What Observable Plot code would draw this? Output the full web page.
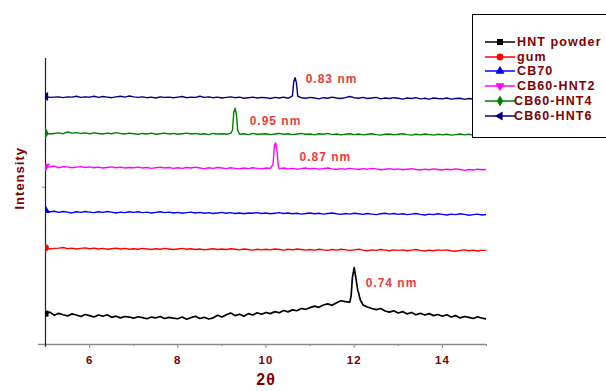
<!DOCTYPE html>
<html><head><meta charset="utf-8">
<script src="https://cdn.jsdelivr.net/npm/d3@7"></script>
<script src="https://cdn.jsdelivr.net/npm/@observablehq/plot@0.6"></script>
<style>
html,body{margin:0;padding:0;background:#fff;}
#wrap{position:relative;width:606px;height:391px;overflow:hidden;font-family:"Liberation Sans",Arial,sans-serif;}
#wrap svg text{letter-spacing:1px;}
#wrap g[aria-label="peak"] text{letter-spacing:1.6px;}
#legend{position:absolute;left:472px;top:14px;width:150px;height:124px;border:1px solid #000;background:#fff;box-sizing:border-box;}
.lrow{position:absolute;height:14px;}
.lrow svg{position:absolute;left:0;top:0;}
.ltext{position:absolute;font:bold 12.5px "Liberation Sans",Arial,sans-serif;letter-spacing:1.1px;color:#800000;line-height:14px;white-space:nowrap;}
</style>
</head><body>
<div id="wrap"></div>
<script>
// ---- data ----
const twoTheta = d3.range(101).map(i => +(5 + i * 0.1).toFixed(1)); // 5.0 .. 15.0 sampling grid
const seriesNames = ["HNT powder", "gum", "CB70", "CB60-HNT2", "CB60-HNT4", "CB60-HNT6"];
const seriesColors = ["#000000", "#ff0000", "#0000ff", "#ff00ff", "#008000", "#000080"];

const hntPowder = [
 10.8,11.3,10.2,10.9,10.4,10.0,10.7,10.3,9.8,10.5,
 10.1,9.6,10.3,9.9,10.4,9.5,9.9,9.3,9.8,9.6,
 9.2,9.7,9.4,9.0,9.6,9.3,9.8,9.1,9.5,9.2,
 9.0,9.6,8.8,9.4,9.9,9.1,9.5,8.9,9.3,10.2,
 9.6,10.4,11.0,10.1,10.6,9.9,10.8,10.3,11.1,10.6,
 11.2,10.8,11.5,11.1,11.9,11.4,12.1,11.8,12.6,12.3,
 12.9,13.4,13.0,13.8,14.2,13.7,14.6,15.3,15.0,14.8,
 26.9,18.0,13.8,13.1,12.6,12.2,12.6,11.7,11.3,11.8,
 11.0,11.5,10.7,11.2,10.4,10.9,10.3,10.8,10.1,10.5,
 9.9,10.4,9.6,10.1,9.3,9.8,9.5,9.1,9.7,9.2,
 8.9];
const hntPowderPeakTheta = [11.93, 11.96, 12.04, 12.08, 12.14, 12.17];
const hntPowderPeakI = [17.0, 23.5, 23.0, 19.0, 15.5, 14.8];

const gum = [
 33.8,33.4,33.6,33.7,33.9,33.5,33.7,33.4,33.6,33.8,
 33.5,33.7,33.4,33.6,33.3,33.5,33.7,33.4,33.6,33.3,
 33.5,33.3,33.6,33.4,33.2,33.5,33.3,33.6,33.4,33.2,
 33.4,33.6,33.3,33.5,33.2,33.4,33.1,33.3,33.5,33.2,
 33.4,33.2,33.5,33.3,33.1,33.4,33.2,33.0,33.3,33.1,
 33.3,33.1,33.4,33.2,33.0,33.3,33.1,33.4,33.2,33.0,
 33.2,33.0,33.3,33.1,32.9,33.2,33.0,33.3,33.1,32.9,
 33.1,33.3,33.0,32.8,33.1,32.9,33.2,33.0,32.8,33.1,
 32.9,33.1,32.8,33.0,33.2,32.9,32.7,33.0,32.8,33.1,
 32.9,33.1,32.8,32.6,32.9,33.1,32.8,33.0,32.7,33.0,
 32.9];

const cb70 = [
 46.9,46.4,46.6,46.2,46.5,46.3,46.0,46.4,46.2,46.5,
 46.3,46.1,46.4,46.2,46.5,46.3,46.0,46.3,46.1,46.4,
 46.2,46.4,46.1,46.3,46.0,46.2,46.4,46.1,46.3,46.0,
 46.2,45.9,46.1,46.3,46.0,46.2,45.9,46.1,45.8,46.0,
 46.2,45.9,46.1,45.8,46.0,45.7,46.0,45.9,46.1,45.8,
 46.0,45.7,45.9,46.1,45.8,46.0,45.7,45.9,45.6,45.8,
 46.0,45.7,45.9,45.6,45.8,46.0,45.7,45.5,45.8,45.6,
 45.9,45.7,45.5,45.8,45.6,45.4,45.7,45.9,45.6,45.8,
 45.5,45.7,45.4,45.6,45.8,45.5,45.3,45.6,45.4,45.7,
 45.5,45.3,45.6,45.4,45.7,45.5,45.2,45.4,45.6,45.3,
 45.5];

const cb60Hnt2 = [
 62.3,62.0,62.4,61.8,62.2,62.1,61.8,62.0,62.2,61.9,
 62.1,61.8,62.0,61.7,61.9,62.1,61.8,62.0,61.7,61.9,
 61.8,62.0,61.7,61.9,61.6,61.8,62.0,61.7,61.9,61.6,
 61.8,61.6,61.9,61.7,62.0,61.7,61.5,61.8,61.6,61.9,
 61.7,61.5,61.8,61.6,61.4,61.7,61.5,61.8,61.6,61.4,
 61.7,61.6,70.0,61.5,61.7,61.4,61.6,61.3,61.5,61.7,
 61.4,61.6,61.3,61.5,61.7,61.4,61.2,61.5,61.3,61.6,
 61.4,61.2,61.5,61.3,61.6,61.4,61.1,61.3,61.5,61.2,
 61.4,61.1,61.3,61.5,61.2,61.0,61.3,61.1,61.4,61.2,
 61.0,61.3,61.1,61.4,61.2,60.9,61.2,61.0,61.3,61.1,
 61.2];
const cb60Hnt2PeakTheta = [10.16, 10.19, 10.22, 10.25, 10.28];
const cb60Hnt2PeakI = [63.0, 69.5, 70.5, 67.5, 62.3];

const cb60Hnt4 = [
 73.9,73.6,73.8,74.0,73.7,74.3,73.9,74.1,73.8,74.0,
 73.7,74.0,73.8,73.6,73.9,73.7,74.1,73.8,73.6,73.9,
 73.7,73.5,73.8,73.6,73.9,73.5,73.7,73.9,73.6,73.8,
 73.5,73.7,73.9,73.6,73.8,73.5,73.7,73.4,73.8,73.6,
 73.7,73.5,73.8,82.6,73.5,73.7,73.4,73.8,73.5,73.6,
 73.7,73.4,73.6,73.8,73.5,73.7,73.4,73.6,73.8,73.5,
 73.6,73.3,73.7,73.5,73.8,73.4,73.6,73.3,73.5,73.7,
 73.4,73.6,73.3,73.5,73.7,73.4,73.2,73.5,73.6,73.3,
 73.5,73.7,73.4,73.2,73.5,73.3,73.6,73.4,73.2,73.5,
 73.3,73.5,73.2,73.4,73.6,73.3,73.5,73.2,73.4,73.3,
 73.4];
const cb60Hnt4PeakTheta = [9.24, 9.27, 9.33, 9.36];
const cb60Hnt4PeakI = [75.0, 81.2, 80.3, 74.8];

const cb60Hnt6 = [
 86.7,86.4,86.5,86.6,86.3,86.6,86.5,86.8,86.4,86.6,
 86.5,86.8,86.4,86.7,86.5,86.3,86.6,86.8,86.5,86.9,
 86.6,86.4,86.6,86.3,86.5,86.2,86.6,86.4,86.5,86.3,
 86.5,86.7,86.3,86.5,86.4,86.8,86.4,86.6,86.3,86.5,
 86.2,86.4,86.6,86.3,86.5,86.1,86.3,86.5,86.2,86.4,
 86.3,86.0,86.4,86.2,86.5,86.1,86.9,89.9,86.3,86.1,
 86.4,86.2,85.9,86.3,86.1,86.5,86.2,86.0,86.3,86.7,
 86.3,86.1,86.4,86.0,86.2,86.4,85.9,86.2,86.0,86.3,
 86.1,85.8,86.2,86.0,86.3,85.9,86.1,85.8,86.2,86.0,
 85.9,86.2,85.8,86.0,86.1,85.7,86.0,85.9,86.1,85.8,
 86.0];
const cb60Hnt6PeakTheta = [10.63, 10.66, 10.69, 10.72];
const cb60Hnt6PeakI = [92.0, 93.3, 91.5, 86.8];

const peakLabels = ["0.74 nm", "0.87 nm", "0.95 nm", "0.83 nm"];
const peakLabelTheta = [12.26, 10.76, 9.63, 10.9];
const peakLabelI = [21.6, 65.5, 78.0, 92.7];

const xTicks = [6, 8, 10, 12, 14];
const xMinorTicks = [5, 7, 9, 11, 13, 15];
const yTicks = [55];

// ---- build table ----
const seriesValues = [hntPowder, gum, cb70, cb60Hnt2, cb60Hnt4, cb60Hnt6];
const seriesPeakTheta = [hntPowderPeakTheta, [], [], cb60Hnt2PeakTheta, cb60Hnt4PeakTheta, cb60Hnt6PeakTheta];
const seriesPeakI = [hntPowderPeakI, [], [], cb60Hnt2PeakI, cb60Hnt4PeakI, cb60Hnt6PeakI];
const rows = [];
seriesNames.forEach((name, s) => {
  const pts = twoTheta.map((t, i) => ({theta: t, I: seriesValues[s][i], series: name}));
  seriesPeakTheta[s].forEach((t, j) => pts.push({theta: t, I: seriesPeakI[s][j], series: name}));
  pts.sort((a, b) => a.theta - b.theta);
  rows.push(...pts);
});
const firstPoints = seriesNames.map((name, s) => ({theta: twoTheta[0], I: seriesValues[s][0], series: name}));

// ---- symbols ----
const triDown = {draw(ctx, size) { const r = Math.sqrt(size / 1.3); ctx.moveTo(0, r); ctx.lineTo(-r * 0.866, -r / 2); ctx.lineTo(r * 0.866, -r / 2); ctx.closePath(); }};
const triLeft = {draw(ctx, size) { const r = Math.sqrt(size / 1.3); ctx.moveTo(-r, 0); ctx.lineTo(r / 2, -r * 0.866); ctx.lineTo(r / 2, r * 0.866); ctx.closePath(); }};
const triUp = {draw(ctx, size) { const r = Math.sqrt(size / 1.3); ctx.moveTo(0, -r); ctx.lineTo(r * 0.866, r / 2); ctx.lineTo(-r * 0.866, r / 2); ctx.closePath(); }};
const seriesSymbols = [d3.symbolSquare, d3.symbolCircle, triUp, triDown, d3.symbolDiamond, triLeft];
const seriesWidths = [1.7, 1.4, 1.4, 1.4, 1.4, 1.4];

const darkRed = "#800000";
const chart = Plot.plot({
  width: 606, height: 391,
  marginLeft: 45, marginRight: 120, marginTop: 58, marginBottom: 47,
  x: {domain: [5, 15]},
  y: {domain: [0, 100]},
  color: {domain: seriesNames, range: seriesColors},
  style: {background: "transparent", fontFamily: "'Liberation Sans', Arial, sans-serif", overflow: "visible"},
  marks: [
    Plot.ruleY([0], {x1: 4.84, x2: 15, stroke: "#8a8a8a", strokeWidth: 1.5}),
    Plot.axisX({ticks: xTicks, tickSize: 4, tickPadding: 7, stroke: "#8a8a8a", fill: darkRed, fontWeight: "bold", fontSize: 11.5, label: null}),
    Plot.axisX({ticks: xMinorTicks, tickSize: 2, stroke: "#8a8a8a", tickFormat: () => "", label: null}),
    Plot.axisY({ticks: yTicks, tickSize: 3, stroke: "#8a8a8a", tickFormat: () => "", label: null}),
    Plot.ruleX([5], {y1: -1, y2: 100, stroke: "#222", strokeWidth: 1.2}),
    ...seriesNames.map((name, s) => Plot.line(rows.filter(r => r.series === name), {x: "theta", y: "I", stroke: seriesColors[s], strokeWidth: seriesWidths[s], clip: true})),
    ...seriesNames.map((name, s) => Plot.dot([firstPoints[s]], {x: "theta", y: "I", fill: seriesColors[s], stroke: "none", symbol: seriesSymbols[s], r: 3.4, clip: true})),
    Plot.text(peakLabels, {x: peakLabelTheta, y: peakLabelI, text: d => d, textAnchor: "start", fill: "#f03a3a", fontWeight: "bold", fontSize: 12, ariaLabel: "peak"}),
    Plot.text(["2θ"], {frameAnchor: "bottom", dy: 40, fill: darkRed, fontWeight: "bold", fontSize: 16}),
    Plot.text(["Intensity"], {frameAnchor: "left", rotate: -90, dx: -26, dy: 8, fill: darkRed, fontWeight: "bold", fontSize: 13})
  ]
});
const wrap = document.getElementById("wrap");
wrap.appendChild(chart);

// ---- legend ----
const legend = document.createElement("div");
legend.id = "legend";
wrap.appendChild(legend);
seriesNames.forEach((name, s) => {
  const cy = 41.7 + s * 14.85;
  const row = document.createElement("div");
  row.className = "lrow";
  row.style.left = "484px"; row.style.top = (cy - 7) + "px";
  const svg = d3.create("svg").attr("width", 34).attr("height", 14);
  svg.append("line").attr("x1", 1).attr("x2", 31).attr("y1", 7).attr("y2", 7).attr("stroke", seriesColors[s]).attr("stroke-width", 1.5);
  svg.append("path").attr("transform", "translate(16,7)").attr("d", d3.symbol(seriesSymbols[s], 36)()).attr("fill", seriesColors[s]);
  row.appendChild(svg.node());
  wrap.appendChild(row);
  const t = document.createElement("div");
  t.className = "ltext";
  t.textContent = name;
  t.style.left = (s >= 4 ? 514 : 517) + "px";
  t.style.top = (cy - 7) + "px";
  wrap.appendChild(t);
});
</script>
</body></html>
